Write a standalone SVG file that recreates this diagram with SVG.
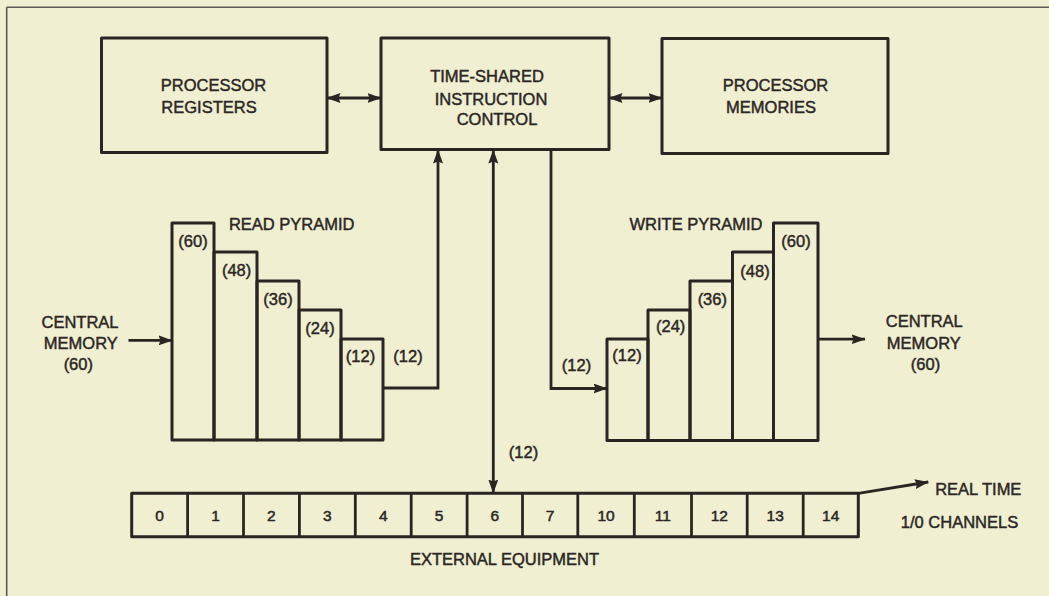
<svg xmlns="http://www.w3.org/2000/svg" width="1049" height="596" viewBox="0 0 1049 596">
<defs>
<marker id="ah" viewBox="0 0 14 10" refX="13.5" refY="5" markerWidth="14" markerHeight="10" orient="auto-start-reverse" markerUnits="userSpaceOnUse">
<path d="M0,0 L14,5 L0,10 L2,5 z" fill="#2a2522"/>
</marker>
<style>
.bx{fill:none;stroke:#2a2522;stroke-width:3;stroke-linejoin:round}
.cn{fill:none;stroke:#2a2522;stroke-width:2.8}
.t{font-family:"Liberation Sans",Arial,sans-serif;font-size:16.5px;fill:#2b2624;stroke:#2b2624;stroke-width:0.45;text-anchor:middle}
.d{font-family:"Liberation Sans",Arial,sans-serif;font-size:15.5px;fill:#2b2624;stroke:#2b2624;stroke-width:0.5;text-anchor:middle}
.fr{stroke:#5e5954;stroke-width:1.6}
</style>
</defs>
<rect x="0" y="0" width="1049" height="596" fill="#f0efd2"/>
<line class="fr" x1="6.5" y1="7.3" x2="1049" y2="7.3"/>
<line class="fr" x1="6.7" y1="7.3" x2="6.7" y2="596"/>

<g id="processor-registers">
<rect class="bx" x="101.5" y="38" width="225.5" height="114.5"/>
<text class="t" x="213.5" y="91">PROCESSOR</text>
<text class="t" x="209" y="113">REGISTERS</text>
</g>
<g id="instruction-control">
<rect class="bx" x="381" y="38" width="228" height="111.5"/>
<text class="t" x="487" y="82">TIME-SHARED</text>
<text class="t" x="491" y="104.5">INSTRUCTION</text>
<text class="t" x="497" y="125">CONTROL</text>
</g>
<g id="processor-memories">
<rect class="bx" x="662" y="38.5" width="226" height="115"/>
<text class="t" x="775.5" y="91">PROCESSOR</text>
<text class="t" x="771" y="113">MEMORIES</text>
</g>

<g id="read-pyramid">
<rect class="bx" x="172" y="223" width="42" height="217"/>
<rect class="bx" x="214" y="252" width="43" height="188"/>
<rect class="bx" x="257" y="281" width="42" height="159"/>
<rect class="bx" x="299" y="310" width="42" height="130"/>
<rect class="bx" x="341" y="339" width="42" height="101"/>
<text class="t" x="291.7" y="230">READ PYRAMID</text>
<text class="t" x="193" y="247">(60)</text>
<text class="t" x="236.6" y="276">(48)</text>
<text class="t" x="278" y="305">(36)</text>
<text class="t" x="320" y="334">(24)</text>
<text class="t" x="360.5" y="362">(12)</text>
</g>

<g id="write-pyramid">
<rect class="bx" x="607" y="339" width="41" height="101.5"/>
<rect class="bx" x="648" y="310" width="42" height="130.5"/>
<rect class="bx" x="690" y="281" width="42.5" height="159.5"/>
<rect class="bx" x="732.5" y="252" width="41" height="188.5"/>
<rect class="bx" x="773.5" y="223" width="44.5" height="217.5"/>
<text class="t" x="696" y="230">WRITE PYRAMID</text>
<text class="t" x="627" y="361">(12)</text>
<text class="t" x="670.7" y="332">(24)</text>
<text class="t" x="712.3" y="305">(36)</text>
<text class="t" x="755" y="277">(48)</text>
<text class="t" x="796" y="247">(60)</text>
</g>

<g id="central-memory-in">
<text class="t" x="80" y="327.5">CENTRAL</text>
<text class="t" x="80.8" y="349">MEMORY</text>
<text class="t" x="78.3" y="370">(60)</text>
</g>
<g id="central-memory-out">
<text class="t" x="924.3" y="326.7">CENTRAL</text>
<text class="t" x="923.8" y="348.7">MEMORY</text>
<text class="t" x="925.5" y="370">(60)</text>
</g>

<g id="io-channels">
<rect class="bx" x="131.7" y="493.3" width="726.6" height="43.4"/>
<g class="cn">
<line x1="187.6" y1="493.3" x2="187.6" y2="536.7"/>
<line x1="243.5" y1="493.3" x2="243.5" y2="536.7"/>
<line x1="299.4" y1="493.3" x2="299.4" y2="536.7"/>
<line x1="355.3" y1="493.3" x2="355.3" y2="536.7"/>
<line x1="411.2" y1="493.3" x2="411.2" y2="536.7"/>
<line x1="467.1" y1="493.3" x2="467.1" y2="536.7"/>
<line x1="522.5" y1="493.3" x2="522.5" y2="536.7"/>
<line x1="577.8" y1="493.3" x2="577.8" y2="536.7"/>
<line x1="634.3" y1="493.3" x2="634.3" y2="536.7"/>
<line x1="691.5" y1="493.3" x2="691.5" y2="536.7"/>
<line x1="747.2" y1="493.3" x2="747.2" y2="536.7"/>
<line x1="803.2" y1="493.3" x2="803.2" y2="536.7"/>
</g>
<text class="d" x="159.6" y="520.5">0</text>
<text class="d" x="215.5" y="520.5">1</text>
<text class="d" x="271.4" y="520.5">2</text>
<text class="d" x="327.3" y="520.5">3</text>
<text class="d" x="383.2" y="520.5">4</text>
<text class="d" x="439.1" y="520.5">5</text>
<text class="d" x="494.8" y="520.5">6</text>
<text class="d" x="550.1" y="520.5">7</text>
<text class="d" x="606" y="520.5">10</text>
<text class="d" x="662.9" y="520.5">11</text>
<text class="d" x="719.3" y="520.5">12</text>
<text class="d" x="775.2" y="520.5">13</text>
<text class="d" x="830.7" y="520.5">14</text>
<text class="t" x="504.5" y="565">EXTERNAL EQUIPMENT</text>
<text class="t" x="959.5" y="528.3">1/0 CHANNELS</text>
</g>

<g id="real-time">
<text class="t" x="978.3" y="495">REAL TIME</text>
</g>

<g id="connectors">
<line class="cn" x1="327" y1="98" x2="381" y2="98" marker-start="url(#ah)" marker-end="url(#ah)"/>
<line class="cn" x1="609" y1="98" x2="662" y2="98" marker-start="url(#ah)" marker-end="url(#ah)"/>
<polyline class="cn" points="383,388 438,388 438,150" marker-end="url(#ah)"/>
<polyline class="cn" points="551,150 551,388.5 607,388.5" marker-end="url(#ah)"/>
<line class="cn" x1="493.3" y1="150" x2="493.3" y2="493" marker-start="url(#ah)" marker-end="url(#ah)"/>
<line class="cn" x1="128.5" y1="340.4" x2="172" y2="340.4" marker-end="url(#ah)"/>
<line class="cn" x1="818" y1="339.2" x2="865" y2="339.2" marker-end="url(#ah)"/>
<line class="cn" x1="858.3" y1="493.3" x2="928.3" y2="482" marker-end="url(#ah)"/>
<text class="t" x="408" y="362">(12)</text>
<text class="t" x="576.5" y="370.5">(12)</text>
<text class="t" x="523.5" y="458">(12)</text>
</g>
</svg>
